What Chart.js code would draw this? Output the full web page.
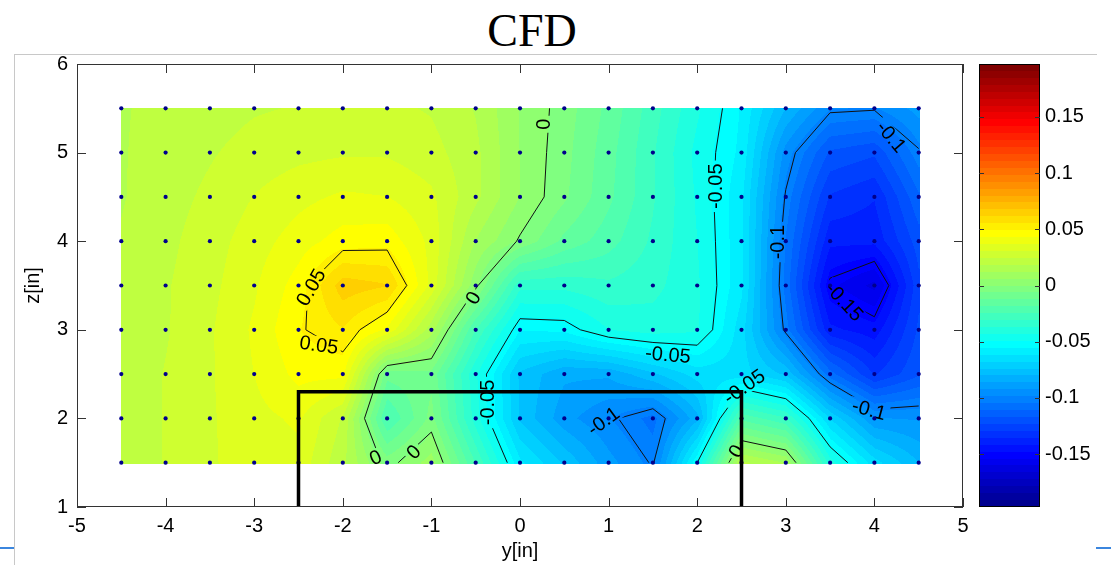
<!DOCTYPE html>
<html>
<head>
<meta charset="utf-8">
<script src="https://cdn.jsdelivr.net/npm/chart.js@4.4.1/dist/chart.umd.min.js"></script>
<style>
  html, body { margin: 0; padding: 0; background: #fff; overflow: hidden; }
  body { width: 1111px; height: 565px; position: relative; }
  #title { position: absolute; left: 432px; top: 8px; width: 200px; text-align: center;
           font: 46px/46px "Liberation Serif", "Times New Roman", serif; color: #000; }
  .rule { position: absolute; background: #c8c8c8; }
  .blue { position: absolute; background: #3b86de; }
  canvas { position: absolute; top: 0; }
</style>
</head>
<body>
<div class="rule" style="left:14px;top:54px;width:1083px;height:1px"></div>
<div class="rule" style="left:14px;top:54px;width:1px;height:511px"></div>
<div class="blue" style="left:0;top:547px;width:14px;height:2px"></div>
<div class="blue" style="left:1096px;top:547px;width:15px;height:2px"></div>
<div id="title">CFD</div>
<canvas id="main" width="1111" height="565" style="left:0"></canvas>
<canvas id="cbar" width="151" height="565" style="left:960px"></canvas>
<script>
// CFD contour map, y-z plane
const gridY = [-4.5, -4, -3.5, -3, -2.5, -2, -1.5, -1, -0.5, 0, 0.5, 1, 1.5, 2, 2.5, 3, 3.5, 4, 4.5];
const gridZ = [5.5, 5, 4.5, 4, 3.5, 3, 2.5, 2, 1.5];

const vZ55 = [0.018, 0.020, 0.022, 0.024, 0.025, 0.026, 0.026, 0.024, 0.018, 0.006, -0.003, -0.014, -0.028, -0.042, -0.056, -0.080, -0.098, -0.099, -0.090];
const vZ50 = [0.018, 0.021, 0.024, 0.027, 0.029, 0.030, 0.030, 0.027, 0.020, 0.006, -0.004, -0.016, -0.030, -0.045, -0.057, -0.095, -0.118, -0.122, -0.101];
const vZ45 = [0.018, 0.022, 0.026, 0.031, 0.035, 0.038, 0.037, 0.032, 0.020, 0.006, -0.005, -0.017, -0.030, -0.044, -0.060, -0.101, -0.130, -0.135, -0.112];
const vZ40 = [0.019, 0.023, 0.028, 0.034, 0.040, 0.046, 0.047, 0.035, 0.012, -0.001, -0.014, -0.022, -0.032, -0.043, -0.060, -0.105, -0.140, -0.140, -0.120];
const vZ35 = [0.019, 0.024, 0.029, 0.036, 0.046, 0.065, 0.062, 0.035, 0.002, -0.035, -0.035, -0.032, -0.035, -0.042, -0.060, -0.107, -0.152, -0.162, -0.125];
const vZ30 = [0.019, 0.024, 0.030, 0.038, 0.049, 0.055, 0.042, 0.015, -0.025, -0.055, -0.054, -0.043, -0.040, -0.042, -0.065, -0.102, -0.140, -0.145, -0.122];
const vZ25 = [0.020, 0.025, 0.030, 0.037, 0.045, 0.045, -0.010, -0.008, -0.042, -0.075, -0.085, -0.085, -0.075, -0.065, -0.065, -0.075, -0.108, -0.130, -0.118];
const vZ20 = [0.020, 0.025, 0.030, 0.035, 0.038, 0.024, -0.025, -0.004, -0.040, -0.075, -0.090, -0.098, -0.107, -0.082, -0.020, -0.030, -0.068, -0.092, -0.093];
const vZ15 = [0.020, 0.025, 0.030, 0.034, 0.035, 0.020, -0.003, 0.009, -0.025, -0.060, -0.075, -0.090, -0.101, -0.050, 0.020, 0.012, -0.040, -0.065, -0.080];
const fieldRows = [vZ55, vZ50, vZ45, vZ40, vZ35, vZ30, vZ25, vZ20, vZ15];

const contourLevels = [-0.15, -0.1, -0.05, 0, 0.05];
const xTicks = [-5, -4, -3, -2, -1, 0, 1, 2, 3, 4, 5];
const yTicks = [1, 2, 3, 4, 5, 6];
const cbTicks = [-0.15, -0.1, -0.05, 0, 0.05, 0.1, 0.15];
const colorMin = -0.197;
const colorMax = 0.197;

// model outline
const outlineY = [-2.5, -2.5, 2.5, 2.5];
const outlineZ = [1, 2.3, 2.3, 1];

// inline contour labels: text, y, z, angle (deg)
const contourLabels = [
  ['0', 0.27, 5.32, -90],
  ['-0.05', 2.21, 4.62, -90],
  ['-0.1', 2.91, 3.99, -90],
  ['-0.1', 4.19, 5.18, 50],
  ['-0.15', 3.66, 3.32, 47],
  ['0.05', -2.36, 3.48, -60],
  ['0.05', -2.27, 2.83, 8],
  ['0', -0.53, 3.36, -60],
  ['-0.05', -0.37, 2.18, -90],
  ['0', -1.63, 1.56, -25],
  ['0', -1.2, 1.62, -45],
  ['-0.05', 1.67, 2.72, 5],
  ['-0.1', 0.94, 1.97, -36],
  ['-0.05', 2.53, 2.36, -35],
  ['0', 2.44, 1.63, -60],
  ['-0.1', 3.94, 2.1, 15]
];

const FONT = '"Liberation Sans", Arial, Helvetica, sans-serif';
Chart.defaults.font.family = FONT;

// --- Colour map (MATLAB jet, 64 steps) ---
function jet(m) {
  const n = Math.ceil(m / 4);
  const u = [];
  for (let i = 1; i <= n; i++) u.push(i / n);
  for (let i = 1; i < n; i++) u.push(1);
  for (let i = n; i >= 1; i--) u.push(i / n);
  const g0 = Math.ceil(n / 2) - (m % 4 === 1 ? 1 : 0);
  const cmap = [];
  for (let i = 0; i < m; i++) cmap.push([0, 0, 0]);
  u.forEach((val, k) => {
    const g = g0 + k + 1, r = g + n, b = g - n;
    if (r <= m) cmap[r - 1][0] = val;
    if (g <= m) cmap[g - 1][1] = val;
    if (b >= 1) cmap[b - 1][2] = val;
  });
  return cmap.map(c => c.map(v => Math.round(v * 255)));
}
const JET = jet(64);

function colorIndex(v) {
  let i = Math.floor((v - colorMin) / (colorMax - colorMin) * JET.length);
  return Math.max(0, Math.min(JET.length - 1, i));
}

function fieldAt(y, z) {
  const dy = gridY[1] - gridY[0], dz = gridZ[0] - gridZ[1];
  let fx = (y - gridY[0]) / dy, fz = (gridZ[0] - z) / dz;
  fx = Math.max(0, Math.min(gridY.length - 1, fx));
  fz = Math.max(0, Math.min(gridZ.length - 1, fz));
  const i = Math.min(gridY.length - 2, Math.floor(fx));
  const j = Math.min(gridZ.length - 2, Math.floor(fz));
  const tx = fx - i, tz = fz - j;
  const a = fieldRows[j][i], b = fieldRows[j][i + 1];
  const c = fieldRows[j + 1][i], d = fieldRows[j + 1][i + 1];
  return (a * (1 - tx) + b * tx) * (1 - tz) + (c * (1 - tx) + d * tx) * tz;
}

// --- Marching squares ---
function contourSegments(level) {
  const segs = [];
  const above = v => v >= level;
  for (let j = 0; j < gridZ.length - 1; j++) {
    for (let i = 0; i < gridY.length - 1; i++) {
      const y0 = gridY[i], y1 = gridY[i + 1];
      const zb = gridZ[j + 1], zt = gridZ[j];
      const bl = fieldRows[j + 1][i], br = fieldRows[j + 1][i + 1];
      const tl = fieldRows[j][i], tr = fieldRows[j][i + 1];
      const lerp = (a, b) => (level - a) / (b - a);
      const e = [null, null, null, null];
      if (above(bl) !== above(br)) e[0] = [y0 + lerp(bl, br) * (y1 - y0), zb];
      if (above(br) !== above(tr)) e[1] = [y1, zb + lerp(br, tr) * (zt - zb)];
      if (above(tl) !== above(tr)) e[2] = [y0 + lerp(tl, tr) * (y1 - y0), zt];
      if (above(bl) !== above(tl)) e[3] = [y0, zb + lerp(bl, tl) * (zt - zb)];
      const hits = e.filter(p => p);
      if (hits.length === 2) {
        segs.push(hits);
      } else if (hits.length === 4) {
        const center = (bl + br + tl + tr) / 4;
        if (above(center) === above(bl)) {
          segs.push([e[2], e[3]], [e[0], e[1]]);
        } else {
          segs.push([e[0], e[3]], [e[1], e[2]]);
        }
      }
    }
  }
  return segs;
}

function labelBox(ctx, x, y, label) {
  const [text, ly, lz, deg] = label;
  const cx = x.getPixelForValue(ly), cy = y.getPixelForValue(lz);
  const w = ctx.measureText(text).width + 6, h = 17;
  const a = deg * Math.PI / 180, ca = Math.cos(a), sa = Math.sin(a);
  return [[-w / 2, -h / 2], [w / 2, -h / 2], [w / 2, h / 2], [-w / 2, h / 2]]
    .map(([px, py]) => [cx + px * ca - py * sa, cy + px * sa + py * ca]);
}

const fieldPlugin = {
  id: 'field',
  beforeDatasetsDraw(chart) {
    const { ctx, chartArea, scales: { x, y } } = chart;
    const x0 = Math.round(x.getPixelForValue(gridY[0]));
    const x1 = Math.round(x.getPixelForValue(gridY[gridY.length - 1]));
    const y0 = Math.round(y.getPixelForValue(gridZ[0]));
    const y1 = Math.round(y.getPixelForValue(gridZ[gridZ.length - 1]));
    const w = x1 - x0 + 1, h = y1 - y0 + 1;
    const off = document.createElement('canvas');
    off.width = w; off.height = h;
    const octx = off.getContext('2d');
    const img = octx.createImageData(w, h);
    for (let j = 0; j < h; j++) {
      const zv = y.getValueForPixel(y0 + j + 0.5);
      for (let i = 0; i < w; i++) {
        const yv = x.getValueForPixel(x0 + i + 0.5);
        const c = JET[colorIndex(fieldAt(yv, zv))];
        const k = (j * w + i) * 4;
        img.data[k] = c[0]; img.data[k + 1] = c[1]; img.data[k + 2] = c[2]; img.data[k + 3] = 255;
      }
    }
    octx.putImageData(img, 0, 0);
    ctx.drawImage(off, x0, y0);

    // contour lines, broken under the labels
    ctx.save();
    ctx.font = '20px ' + FONT;
    ctx.beginPath();
    ctx.rect(chartArea.left, chartArea.top, chartArea.width, chartArea.height);
    contourLabels.forEach(lab => {
      const pts = labelBox(ctx, x, y, lab);
      ctx.moveTo(pts[0][0], pts[0][1]);
      pts.slice(1).forEach(p => ctx.lineTo(p[0], p[1]));
      ctx.closePath();
    });
    ctx.clip('evenodd');
    ctx.strokeStyle = '#111';
    ctx.lineWidth = 1;
    ctx.beginPath();
    contourLevels.forEach(level => {
      contourSegments(level).forEach(([p, q]) => {
        ctx.moveTo(x.getPixelForValue(p[0]), y.getPixelForValue(p[1]));
        ctx.lineTo(x.getPixelForValue(q[0]), y.getPixelForValue(q[1]));
      });
    });
    ctx.stroke();
    ctx.restore();

    ctx.save();
    ctx.font = '20px ' + FONT;
    ctx.fillStyle = '#000';
    ctx.textAlign = 'center';
    ctx.textBaseline = 'middle';
    contourLabels.forEach(([text, ly, lz, deg]) => {
      ctx.save();
      ctx.translate(x.getPixelForValue(ly), y.getPixelForValue(lz));
      ctx.rotate(deg * Math.PI / 180);
      ctx.fillText(text, 0, 1);
      ctx.restore();
    });
    ctx.restore();
  }
};

const framePlugin = {
  id: 'frame',
  afterDraw(chart) {
    const { ctx, chartArea: a, scales: { x, y } } = chart;
    ctx.save();
    ctx.strokeStyle = '#333';
    ctx.lineWidth = 1;
    ctx.strokeRect(a.left + 0.5, a.top + 0.5, a.width - 1, a.height - 1);
    ctx.beginPath();
    x.ticks.forEach(t => {
      const p = Math.round(x.getPixelForValue(t.value)) + 0.5;
      ctx.moveTo(p, a.bottom); ctx.lineTo(p, a.bottom - 9);
      ctx.moveTo(p, a.top); ctx.lineTo(p, a.top + 9);
    });
    y.ticks.forEach(t => {
      const p = Math.round(y.getPixelForValue(t.value)) + 0.5;
      ctx.moveTo(a.left, p); ctx.lineTo(a.left + 9, p);
      ctx.moveTo(a.right, p); ctx.lineTo(a.right - 9, p);
    });
    ctx.stroke();
    ctx.restore();
  }
};

const gridPoints = [];
gridZ.forEach(z => gridY.forEach(yv => gridPoints.push({ x: yv, y: z })));

new Chart(document.getElementById('main'), {
  type: 'scatter',
  data: {
    datasets: [
      {
        data: outlineY.map((v, i) => ({ x: v, y: outlineZ[i] })),
        showLine: true,
        borderColor: '#000',
        borderWidth: 3.5,
        borderJoinStyle: 'miter',
        pointRadius: 0,
        fill: false
      },
      {
        data: gridPoints,
        pointRadius: 2.1,
        pointBackgroundColor: '#00008c',
        pointBorderWidth: 0
      }
    ]
  },
  options: {
    responsive: false,
    animation: false,
    events: [],
    layout: { padding: { top: 64, right: 148, bottom: 0, left: 0 } },
    plugins: { legend: { display: false }, tooltip: { enabled: false } },
    scales: {
      x: {
        type: 'linear', min: -5, max: 5,
        afterBuildTicks: s => { s.ticks = xTicks.map(v => ({ value: v })); },
        afterFit: s => { s.height = 58; },
        grid: { display: false, drawTicks: false },
        border: { display: false },
        ticks: { padding: 7, color: '#000', font: { size: 20 } },
        title: { display: true, text: 'y[in]', color: '#000', font: { size: 20 }, padding: { top: 0, bottom: 2 } }
      },
      y: {
        type: 'linear', min: 1, max: 6,
        afterBuildTicks: s => { s.ticks = yTicks.map(v => ({ value: v })); },
        afterFit: s => { s.width = 77; },
        grid: { display: false, drawTicks: false },
        border: { display: false },
        ticks: { padding: 9, color: '#000', font: { size: 20 } },
        title: { display: true, text: 'z[in]', color: '#000', font: { size: 20 }, padding: { top: 21, bottom: 0 } }
      }
    }
  },
  plugins: [fieldPlugin, framePlugin]
});

// --- Colour bar ---
const cbarPlugin = {
  id: 'cbar',
  afterDraw(chart) {
    const { ctx, chartArea: a, scales: { y } } = chart;
    const step = (colorMax - colorMin) / JET.length;
    ctx.save();
    JET.forEach((c, i) => {
      const lo = colorMin + i * step, hi = lo + step;
      const top = Math.round(y.getPixelForValue(hi)), bot = Math.round(y.getPixelForValue(lo));
      ctx.fillStyle = `rgb(${c[0]},${c[1]},${c[2]})`;
      ctx.fillRect(a.left, top, a.width, bot - top);
    });
    ctx.strokeStyle = '#000';
    ctx.lineWidth = 1;
    ctx.strokeRect(a.left + 0.5, a.top + 0.5, a.width - 1, a.height - 1);
    ctx.strokeStyle = '#333';
    ctx.beginPath();
    y.ticks.forEach(t => {
      const p = Math.round(y.getPixelForValue(t.value)) + 0.5;
      ctx.moveTo(a.left, p); ctx.lineTo(a.left + 5, p);
      ctx.moveTo(a.right, p); ctx.lineTo(a.right - 5, p);
    });
    ctx.stroke();
    ctx.restore();
  }
};

new Chart(document.getElementById('cbar'), {
  type: 'bar',
  data: { labels: [''], datasets: [] },
  options: {
    responsive: false,
    animation: false,
    events: [],
    layout: { padding: { top: 64, right: 0, bottom: 58, left: 19 } },
    plugins: { legend: { display: false }, tooltip: { enabled: false } },
    scales: {
      x: { display: false },
      y: {
        type: 'linear', position: 'right', min: colorMin, max: colorMax,
        afterBuildTicks: s => { s.ticks = cbTicks.map(v => ({ value: v })); },
        afterFit: s => { s.width = 71; },
        grid: { display: false, drawTicks: false },
        border: { display: false },
        ticks: { padding: 5, color: '#000', font: { size: 20 }, callback: v => String(v) }
      }
    }
  },
  plugins: [cbarPlugin]
});
</script>
</body>
</html>
